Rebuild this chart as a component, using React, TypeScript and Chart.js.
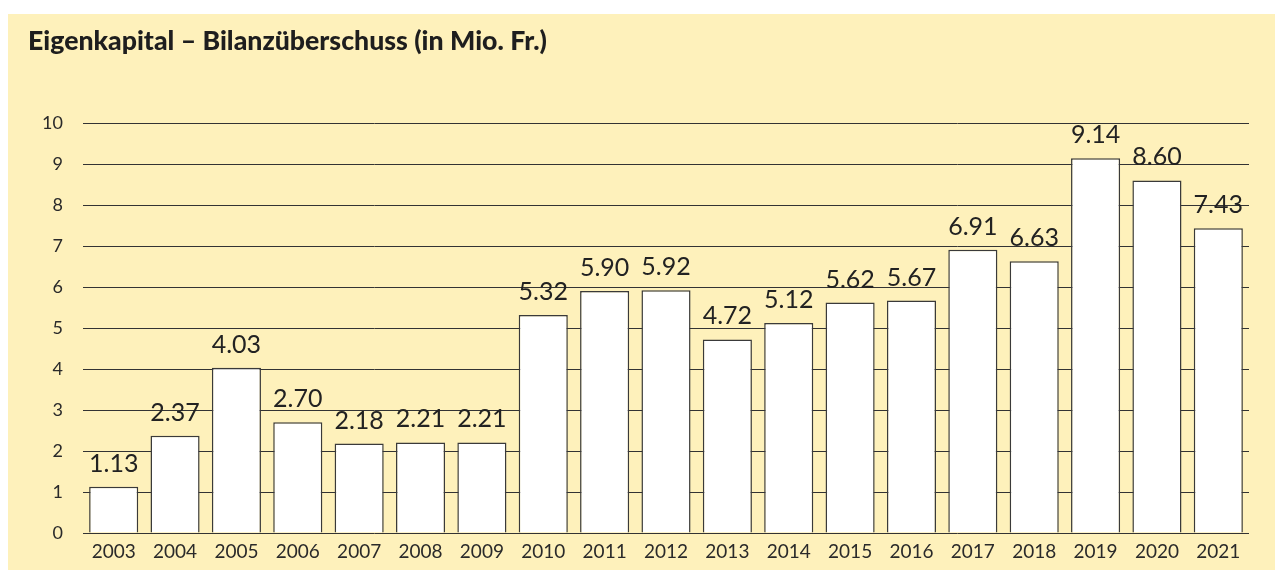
import React, { useEffect, useRef } from "react";
import { Chart, registerables } from "chart.js";

Chart.register(...registerables);

const titleText = "Eigenkapital – Bilanzüberschuss (in Mio. Fr.)";
const years = ["2003", "2004", "2005", "2006", "2007", "2008", "2009", "2010", "2011", "2012", "2013", "2014", "2015", "2016", "2017", "2018", "2019", "2020", "2021"];
const surplus = [1.13, 2.37, 4.03, 2.70, 2.18, 2.21, 2.21, 5.32, 5.90, 5.92, 4.72, 5.12, 5.62, 5.67, 6.91, 6.63, 9.14, 8.60, 7.43];

const FONT = "Lato, 'Open Sans', sans-serif";

const titlePlugin = {
  id: "customTitle",
  afterDraw(chart: any) {
    const ctx = chart.ctx;
    ctx.save();
    ctx.font = `900 22px ${FONT}`;
    const w = ctx.measureText(titleText).width;
    const size = 22 * 519 / w;
    ctx.font = `900 ${size.toFixed(2)}px ${FONT}`;
    ctx.fillStyle = "#1e1e1e";
    ctx.textBaseline = "alphabetic";
    ctx.textAlign = "left";
    ctx.fillText(titleText, 20, 36);
    ctx.restore();
  },
};

const valueLabels = {
  id: "valueLabels",
  afterDatasetsDraw(chart: any) {
    const ctx = chart.ctx;
    const meta = chart.getDatasetMeta(0);
    ctx.save();
    ctx.font = `25px ${FONT}`;
    ctx.fillStyle = "#222";
    ctx.textAlign = "center";
    ctx.textBaseline = "alphabetic";
    meta.data.forEach((bar: any, i: number) => {
      ctx.fillText(surplus[i].toFixed(2), bar.x, bar.y - 15);
    });
    ctx.restore();
  },
};

export default function App() {
  const ref = useRef<HTMLCanvasElement | null>(null);
  useEffect(() => {
    if (!ref.current) return;
    const chart = new Chart(ref.current, {
      type: "bar",
      data: {
        labels: years,
        datasets: [
          {
            data: surplus,
            backgroundColor: "#ffffff",
            borderColor: "#3a3a3a",
            borderWidth: 1.5,
            barPercentage: 0.8,
            categoryPercentage: 1,
          },
        ],
      },
      options: {
        animation: false,
        responsive: true,
        maintainAspectRatio: false,
        layout: { padding: { top: 109, right: 26, left: 0, bottom: 0 } },
        plugins: {
          legend: { display: false },
          title: { display: false },
          tooltip: { enabled: false },
        },
        scales: {
          x: {
            afterFit: (s: any) => { s.height = 37; },
            grid: { display: false },
            border: { display: false },
            ticks: { color: "#2a2a2a", font: { family: FONT, size: 19 }, padding: -1, maxRotation: 0, autoSkip: false },
          },
          y: {
            min: 0,
            max: 10,
            afterFit: (s: any) => { s.width = 75; },
            grid: { color: "#333", lineWidth: 1, drawTicks: false },
            border: { display: false },
            ticks: { stepSize: 1, color: "#2a2a2a", font: { family: FONT, size: 18 }, padding: 20 },
          },
        },
      },
      plugins: [titlePlugin, valueLabels],
    });
    return () => chart.destroy();
  }, []);
  return (
    <div style={{ position: "absolute", left: 8, top: 14, width: 1267, height: 556, background: "#fef1bb" }}>
      <canvas ref={ref} />
    </div>
  );
}
